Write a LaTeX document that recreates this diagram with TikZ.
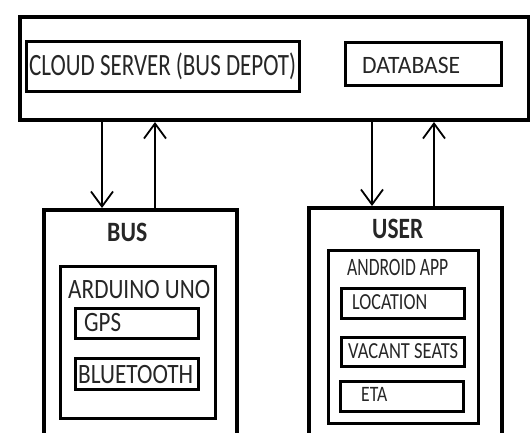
\documentclass[tikz,border=0pt]{standalone}
\usepackage{fontspec}
\usepackage{graphicx}
\setmainfont{Carlito}
\usetikzlibrary{arrows.meta}
\newcommand\fitw[3]{\resizebox{#1pt}{\height}{\fontsize{#2}{#2}\selectfont #3}}
\tikzset{
  box/.style={draw=black, line width=#1, inner sep=0pt, fill=none},
  lbl/.style={anchor=base west, inner sep=0pt, text=black!85},
  arr/.style={line width=1.8pt, -{Straight Barb[length=15pt,width=22pt,line width=1.8pt]}}
}
\begin{document}
\begin{tikzpicture}[x=1pt,y=-1pt]
\useasboundingbox (0,0) rectangle (530,432);
\clip (0,0) rectangle (530,432);
% containers
\node[box=4pt, minimum width=509pt, minimum height=103pt, anchor=north west] (top) at (18,15) {};
\node[box=2.5pt, minimum width=273pt, minimum height=50pt, anchor=north west] (cloud) at (25,40) {};
\node[box=2.5pt, minimum width=156pt, minimum height=43pt, anchor=north west] (db) at (344,41) {};
\node[box=3.5pt, minimum width=193pt, minimum height=240pt, anchor=north west] (bus) at (42,208) {};
\node[box=2.5pt, minimum width=155pt, minimum height=152pt, anchor=north west] (ard) at (59,265) {};
\node[box=2.5pt, minimum width=123pt, minimum height=30pt, anchor=north west] (gps) at (74,307) {};
\node[box=2.5pt, minimum width=123pt, minimum height=31pt, anchor=north west] (bt) at (74,357) {};
\node[box=3.5pt, minimum width=193pt, minimum height=240pt, anchor=north west] (user) at (307,206) {};
\node[box=2.5pt, minimum width=150pt, minimum height=173pt, anchor=north west] (app) at (327,249) {};
\node[box=2.5pt, minimum width=123pt, minimum height=30pt, anchor=north west] (loc) at (340,287) {};
\node[box=2.5pt, minimum width=123pt, minimum height=29pt, anchor=north west] (seat) at (340,336) {};
\node[box=2.5pt, minimum width=123pt, minimum height=30pt, anchor=north west] (eta) at (339,380) {};
% labels
\node[lbl] (tcloud) at (29,75) {\fitw{267}{31}{CLOUD SERVER (BUS DEPOT)}};
\node[lbl] (tdb) at (362,73) {\fitw{98}{25}{DATABASE}};
\node[lbl] (tbus) at (107,241) {\fitw{40}{28}{\bfseries BUS}};
\node[lbl] (tard) at (68,298) {\fitw{142}{28}{ARDUINO UNO}};
\node[lbl] (tgps) at (84,331) {\fitw{37}{28}{GPS}};
\node[lbl] (tbt) at (78,383) {\fitw{115}{28}{BLUETOOTH}};
\node[lbl] (tuser) at (372,238) {\fitw{51}{29.5}{\bfseries USER}};
\node[lbl] (tapp) at (347,275) {\fitw{101}{25}{ANDROID APP}};
\node[lbl] (tloc) at (352,309) {\fitw{75}{23}{LOCATION}};
\node[lbl] (tseat) at (348,358) {\fitw{110}{23}{VACANT SEATS}};
\node[lbl] (teta) at (361,401) {\fitw{26}{22}{ETA}};
% connectors
\draw[arr] (top.south -| 102,0) -- (bus.north -| 102,0);
\draw[arr] (bus.north -| 155,0) -- (top.south -| 155,0);
\draw[arr] (top.south -| 372,0) -- (user.north -| 372,0);
\draw[arr] (user.north -| 434,0) -- (top.south -| 434,0);
\end{tikzpicture}
\end{document}
